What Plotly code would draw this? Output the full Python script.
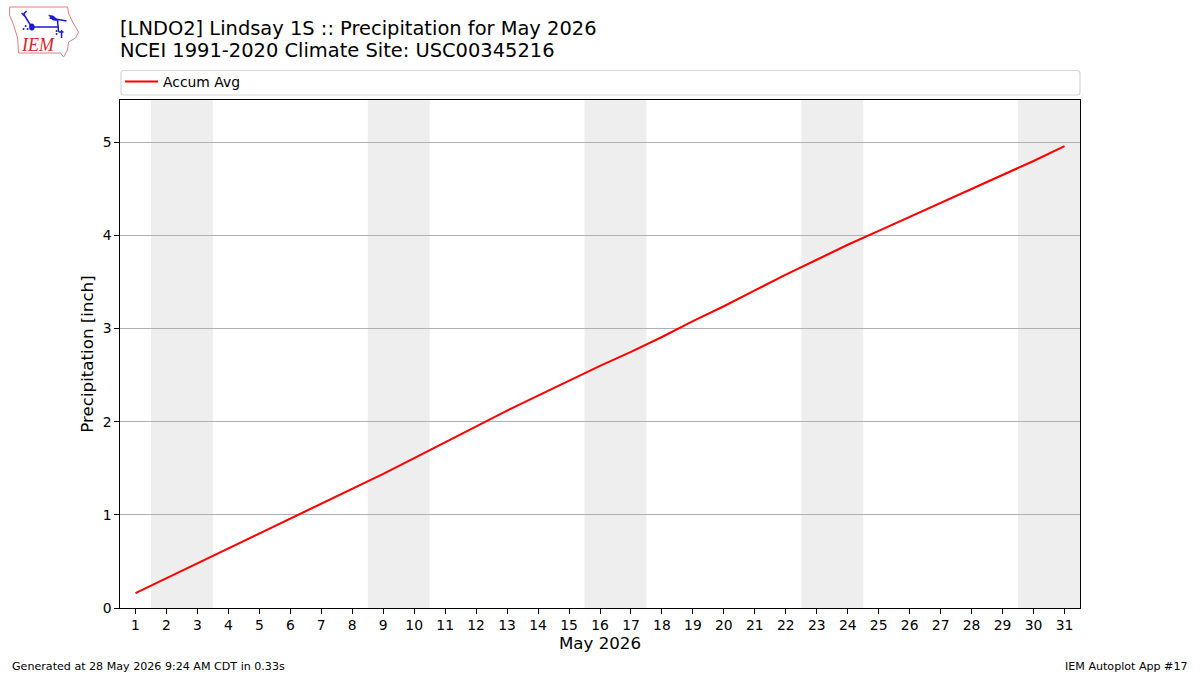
#!/usr/bin/python3
import plotly.graph_objects as go

W = 1200
H = 675
# plot box in pixels of the page
LEFT, RIGHT, TOP, BOTTOM = 119.5, 1080.5, 100, 608

days = list(range(1, 32))
accum_avg = [0.16, 0.32, 0.48, 0.64, 0.80, 0.96, 1.12, 1.28, 1.44, 1.61,
             1.78, 1.95, 2.12, 2.28, 2.44, 2.60, 2.75, 2.91, 3.08, 3.24,
             3.41, 3.58, 3.74, 3.90, 4.05, 4.20, 4.35, 4.50, 4.65, 4.80, 4.96]
weekend_starts = [2, 9, 16, 23, 30]
y_ticks = [0, 1, 2, 3, 4, 5]

title_lines = ["[LNDO2] Lindsay 1S :: Precipitation for May 2026",
               "NCEI 1991-2020 Climate Site: USC00345216"]

FONT = "DejaVu Sans"
BLUE = "#1a1acc"


# page pixels to paper coordinates, paper is the plot box here
def px(x):
    return (x - LEFT) / (RIGHT - LEFT)


def py(y):
    return (BOTTOM - y) / (BOTTOM - TOP)


def pixelPath(points, close=False):
    parts = ["{} {} {}".format("M" if i == 0 else "L", px(x), py(y)) for i, (x, y) in enumerate(points)]
    return " ".join(parts) + (" Z" if close else "")


fig = go.Figure()
fig.add_trace(go.Scatter(x=days, y=accum_avg, mode="lines", name="Accum Avg",
                         line=dict(color="#ff0000", width=2.1)))

for start in weekend_starts:
    fig.add_shape(type="rect", xref="x", yref="paper", x0=start - 0.5, x1=start + 1.5, y0=0, y1=1,
                  fillcolor="#eeeeee", line_width=0, layer="below")

# legend frame
r = 3
fr = 1080.5
fig.add_shape(type="path", xref="paper", yref="paper", line=dict(color="#d6d6d6", width=1.2),
              path="M {} {} L {} {} Q {} {} {} {} L {} {} Q {} {} {} {} L {} {} Q {} {} {} {} L {} {} Q {} {} {} {} Z".format(
                  px(120.5 + r), py(70.5), px(fr - r), py(70.5), px(fr), py(70.5), px(fr), py(70.5 + r),
                  px(fr), py(95 - r), px(fr), py(95), px(fr - r), py(95),
                  px(120.5 + r), py(95), px(120.5), py(95), px(120.5), py(95 - r),
                  px(120.5), py(70.5 + r), px(120.5), py(70.5), px(120.5 + r), py(70.5)))

# logo: Iowa outline with the station model
iowa = [(9, 7), (67, 7), (68, 13), (72, 22), (78, 32), (75, 38), (68, 42), (67, 50),
        (63, 57), (60, 53), (18, 53), (17, 38), (13, 25), (9, 15)]
fig.add_shape(type="path", xref="paper", yref="paper", path=pixelPath(iowa, True),
              line=dict(color="#e08080", width=1))
for seg in ([(31, 27), (58, 27)], [(31, 27), (23, 14)], [(23, 14), (26, 11)], [(24, 16), (21, 13)],
            [(49, 18), (66, 21)], [(57, 21), (58, 32)], [(58, 32), (63, 32)], [(61, 30), (61, 38)]):
    fig.add_shape(type="path", xref="paper", yref="paper", path=pixelPath(seg),
                  line=dict(color=BLUE, width=1.5))
fig.add_shape(type="path", xref="paper", yref="paper", path=pixelPath([(48, 15), (53, 16), (58, 21), (52, 20)], True),
              fillcolor=BLUE, line=dict(color=BLUE, width=0.5))
fig.add_shape(type="circle", xref="paper", yref="paper", x0=px(28.5), x1=px(34), y0=py(30.5), y1=py(23.5),
              fillcolor=BLUE, line_width=0)
for cx, cy in ((25, 26), (23, 29), (27, 29), (56, 31), (56, 34)):
    fig.add_shape(type="circle", xref="paper", yref="paper", x0=px(cx - 1), x1=px(cx + 1), y0=py(cy + 1), y1=py(cy - 1),
                  fillcolor=BLUE, line_width=0)

annotations = [
    dict(text="<i>IEM</i>", x=px(20.5), y=py(45.5), xanchor="left", yanchor="middle",
         font=dict(family="Liberation Serif", size=18, color="#d62728")),
    dict(text=title_lines[0], x=px(119.5), y=py(28.5), xanchor="left", yanchor="middle",
         font=dict(family=FONT, size=19.45, color="#000000")),
    dict(text=title_lines[1], x=px(119.5), y=py(50.5), xanchor="left", yanchor="middle",
         font=dict(family=FONT, size=19.45, color="#000000")),
    dict(text="Generated at 28 May 2026 9:24 AM CDT in 0.33s", x=px(11.5), y=py(666.5), xanchor="left", yanchor="middle",
         font=dict(family=FONT, size=11.1, color="#000000")),
    dict(text="IEM Autoplot App #17", x=px(1189), y=py(666.5), xanchor="right", yanchor="middle",
         font=dict(family=FONT, size=11.1, color="#000000")),
]
for a in annotations:
    fig.add_annotation(xref="paper", yref="paper", showarrow=False, borderpad=0, borderwidth=0, **a)

fig.update_layout(
    width=W, height=H, autosize=False,
    margin=dict(l=LEFT, r=W - RIGHT, t=TOP, b=H - BOTTOM, pad=0),
    paper_bgcolor="#ffffff", plot_bgcolor="#ffffff",
    font=dict(family=FONT, size=13.9, color="#000000"),
    showlegend=True,
    legend=dict(x=0, y=py(82), xanchor="left", yanchor="middle", bgcolor="rgba(0,0,0,0)",
                font=dict(family=FONT, size=13.9), itemwidth=33),
)
fig.update_xaxes(range=[0.5, 31.5], tickmode="array", tickvals=days, ticktext=[str(d) for d in days],
                 showgrid=False, zeroline=False, showline=True, linecolor="#000000", linewidth=1.2, mirror=True,
                 ticks="outside", ticklen=4.5, tickwidth=1, tickcolor="#000000", tickfont=dict(size=13.9),
                 title=dict(text="May 2026", font=dict(size=16.67), standoff=5))
fig.update_yaxes(range=[0, 5.455], tickmode="array", tickvals=y_ticks,
                 showgrid=True, gridcolor="#b0b0b0", gridwidth=1, zeroline=False,
                 showline=True, linecolor="#000000", linewidth=1.2, mirror=True,
                 ticks="outside", ticklen=4.5, tickwidth=1, tickcolor="#000000", tickfont=dict(size=13.9),
                 title=dict(text="Precipitation [inch]", font=dict(size=16.67), standoff=4))

fig.write_html("out.html", config=dict(displayModeBar=False), post_script="document.body.style.margin='0';")
